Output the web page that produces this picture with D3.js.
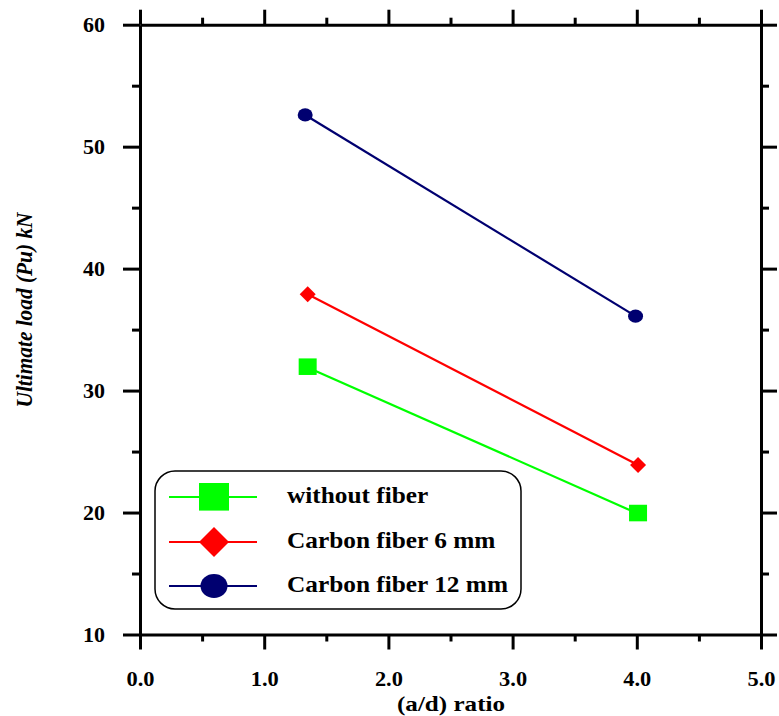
<!DOCTYPE html>
<html><head><meta charset="utf-8">
<script src="https://cdn.jsdelivr.net/npm/d3@7"></script>
<style>body{margin:0;background:#fff}svg{display:block}</style>
</head><body>
<script>
const seriesNames = ["without fiber", "Carbon fiber 6 mm", "Carbon fiber 12 mm"];
const seriesColors = ["#00ff00", "#ff0000", "#000070"];
const seriesShapes = ["square", "diamond", "circle"];
const xNoFiber = [1.35, 4.01];
const yNoFiber = [31.9, 19.9];
const x6mm = [1.35, 4.01];
const y6mm = [37.9, 23.9];
const x12mm = [1.33, 3.99];
const y12mm = [52.6, 36.1];
const xTicks = [0, 1, 2, 3, 4, 5];
const xTickLabels = ["0.0", "1.0", "2.0", "3.0", "4.0", "5.0"];
const yTicks = [10, 20, 30, 40, 50, 60];
const yTickLabels = ["10", "20", "30", "40", "50", "60"];
const xTitle = "(a/d) ratio";
const yTitle = "Ultimate load (Pu) kN";

const series = [
  {name: seriesNames[0], color: seriesColors[0], shape: seriesShapes[0], xs: xNoFiber, ys: yNoFiber},
  {name: seriesNames[1], color: seriesColors[1], shape: seriesShapes[1], xs: x6mm, ys: y6mm},
  {name: seriesNames[2], color: seriesColors[2], shape: seriesShapes[2], xs: x12mm, ys: y12mm}
];

const W = 779, H = 716;
const L = 140, R = 761, T = 24.7, B = 634.5;
const svg = d3.select("body").append("svg").attr("width", W).attr("height", H);
const font = "'Liberation Serif','Times New Roman',serif";

function stretch(sel, k) {
  sel.each(function() {
    const w = this.getComputedTextLength();
    d3.select(this).attr("textLength", w * k).attr("lengthAdjust", "spacingAndGlyphs");
  });
}

const x = d3.scaleLinear().domain([0, 5]).range([L, R]);
const y = d3.scaleLinear().domain([10, 60]).range([B, T]);

const minorX = d3.range(0.5, 5, 1);
const minorY = d3.range(15, 60, 10);

function axisStyle(g) {
  g.select(".domain").attr("stroke", "#000").attr("stroke-width", 3);
  g.selectAll(".tick line").attr("stroke", "#000").attr("stroke-width", 3);
}

// Bottom axis
const bx = svg.append("g").attr("transform", `translate(0,${B})`)
  .call(d3.axisBottom(x).tickValues(xTicks).tickSize(15).tickSizeOuter(0).tickFormat((d,i)=>xTickLabels[i]));
axisStyle(bx);
const bxText = bx.selectAll(".tick text").attr("font-family", font).attr("font-weight", "bold").attr("font-size", 20)
  .attr("dy", 0).attr("y", 51).attr("fill", "#000");
const kx = 28 / bxText.node().getComputedTextLength();
bxText.call(stretch, kx);
svg.append("g").attr("transform", `translate(0,${B})`)
  .call(d3.axisBottom(x).tickValues(minorX).tickSize(7).tickFormat("")).call(g=>{g.select(".domain").remove(); g.selectAll("line").attr("stroke-width",3);});

// Top axis
const tx = svg.append("g").attr("transform", `translate(0,${T})`)
  .call(d3.axisTop(x).tickValues(xTicks).tickSize(15).tickSizeOuter(0).tickFormat(""));
axisStyle(tx);
svg.append("g").attr("transform", `translate(0,${T})`)
  .call(d3.axisTop(x).tickValues(minorX).tickSize(7).tickFormat("")).call(g=>{g.select(".domain").remove(); g.selectAll("line").attr("stroke-width",3);});

// Left axis
const ly = svg.append("g").attr("transform", `translate(${L},0)`)
  .call(d3.axisLeft(y).tickValues(yTicks).tickSize(17).tickSizeOuter(0).tickFormat((d,i)=>yTickLabels[i]));
axisStyle(ly);
const lyText = ly.selectAll(".tick text").attr("font-family", font).attr("font-weight", "bold").attr("font-size", 20)
  .attr("x", -35).attr("dy", "0.33em").attr("fill", "#000");
const ky = 22 / lyText.node().getComputedTextLength();
lyText.call(stretch, ky);
svg.append("g").attr("transform", `translate(${L},0)`)
  .call(d3.axisLeft(y).tickValues(minorY).tickSize(8).tickFormat("")).call(g=>{g.select(".domain").remove(); g.selectAll("line").attr("stroke-width",3);});

// Right axis
const ry = svg.append("g").attr("transform", `translate(${R},0)`)
  .call(d3.axisRight(y).tickValues(yTicks).tickSize(16).tickSizeOuter(0).tickFormat(""));
axisStyle(ry);
svg.append("g").attr("transform", `translate(${R},0)`)
  .call(d3.axisRight(y).tickValues(minorY).tickSize(8).tickFormat("")).call(g=>{g.select(".domain").remove(); g.selectAll("line").attr("stroke-width",3);});

// Axis titles
svg.append("text").attr("x", 451).attr("y", 711).attr("text-anchor", "middle")
  .attr("font-family", font).attr("font-weight", "bold").attr("font-size", 22)
  .attr("textLength", 108).attr("lengthAdjust", "spacingAndGlyphs").text(xTitle);
svg.append("text").attr("transform", `translate(32,310) rotate(-90)`).attr("text-anchor", "middle")
  .attr("font-family", font).attr("font-weight", "bold").attr("font-style", "italic").attr("font-size", 23)
  .attr("textLength", 195).attr("lengthAdjust", "spacingAndGlyphs").text(yTitle);

// Marker drawing
function drawMarker(g, shape, cx, cy, size, color) {
  if (shape === "square") {
    g.append("rect").attr("x", cx - size/2).attr("y", cy - size/2).attr("width", size).attr("height", size*0.92).attr("fill", color);
  } else if (shape === "diamond") {
    const h = size/2;
    g.append("path").attr("d", `M${cx},${cy-h}L${cx+h},${cy}L${cx},${cy+h}L${cx-h},${cy}Z`).attr("fill", color);
  } else {
    g.append("ellipse").attr("cx", cx).attr("cy", cy).attr("rx", size/2).attr("ry", size/2*0.88).attr("fill", color);
  }
}

const line = d3.line().x(d => x(d[0])).y(d => y(d[1]));
const markerSizes = {square: 18, diamond: 16, circle: 15};
series.forEach(s => {
  const pts = s.xs.map((v, i) => [v, s.ys[i]]);
  svg.append("path").attr("d", line(pts)).attr("fill", "none").attr("stroke", s.color).attr("stroke-width", 2.2);
  const g = svg.append("g");
  pts.forEach(p => drawMarker(g, s.shape, x(p[0]), y(p[1]), markerSizes[s.shape], s.color));
});

// Legend
const lg = svg.append("g");
lg.append("rect").attr("x", 155).attr("y", 471).attr("width", 366).attr("height", 138).attr("rx", 20).attr("ry", 20)
  .attr("fill", "#fff").attr("stroke", "#000").attr("stroke-width", 1.5);
const rowY = [497, 542, 586];
const textBase = [503, 548, 592];
const legSizes = {square: 30, diamond: 30, circle: 27};
const legTexts = [];
series.forEach((s, i) => {
  lg.append("line").attr("x1", 169).attr("x2", 257).attr("y1", rowY[i]).attr("y2", rowY[i]).attr("stroke", s.color).attr("stroke-width", 2.2);
  drawMarker(lg, s.shape, 214, rowY[i] + (s.shape === "square" ? 1 : 0), legSizes[s.shape], s.color);
  legTexts.push(lg.append("text").attr("x", 287).attr("y", textBase[i]).attr("font-family", font).attr("font-weight", "bold")
    .attr("font-size", 23).text(s.name));
});
const kl = 221 / legTexts[2].node().getComputedTextLength();
legTexts.forEach(t => t.call(stretch, kl));
</script>
</body></html>
